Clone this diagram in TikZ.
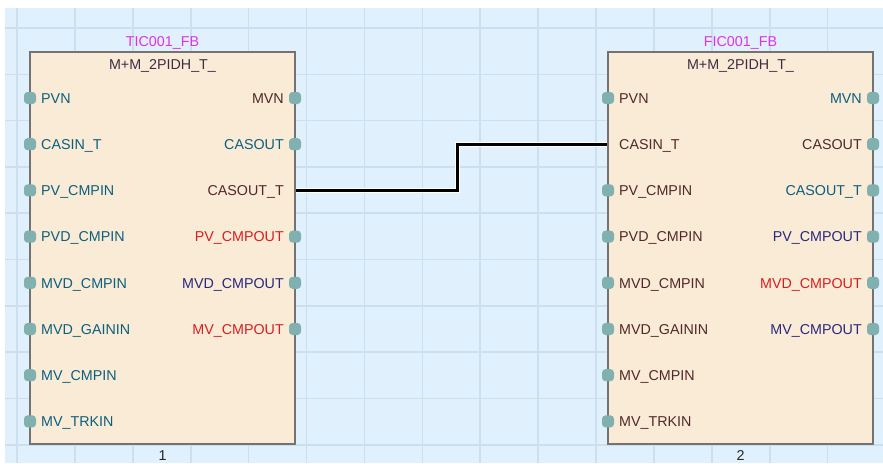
\documentclass[tikz,border=0pt]{standalone}
\usepackage{fontspec}
\setmainfont{Liberation Sans}
\usetikzlibrary{positioning, calc}

\definecolor{sheetblue}{RGB}{224,240,252}
\definecolor{gridblue}{RGB}{204,223,238}
\definecolor{fbfill}{RGB}{250,235,215}
\definecolor{pinteal}{RGB}{128,176,176}
\definecolor{txteal}{RGB}{10,95,125}
\definecolor{txbrown}{RGB}{80,40,40}
\definecolor{txred}{RGB}{215,30,30}
\definecolor{txnavy}{RGB}{40,40,125}
\definecolor{txtype}{RGB}{60,45,70}
\definecolor{txname}{RGB}{225,50,225}

\begin{document}
\begin{tikzpicture}[x=1pt, y=-1pt,
    every node/.style={font=\fontsize{14.3}{16}\selectfont},
    fblock/.style={rectangle, draw=gray!90!black, line width=1.3pt, fill=fbfill, minimum width=265pt, minimum height=392pt, inner sep=0pt},
    fbname/.style={text=txname, inner sep=0pt},
    fbtype/.style={text=txtype, inner sep=0pt},
    fbnum/.style={text=black!85, inner sep=0pt},
    portpin/.style={rectangle, rounded corners=3.5pt, fill=pinteal, minimum width=12pt, minimum height=12pt, inner sep=0pt},
    gridline/.style={draw=gridblue, line width=1.6pt},
    wire/.style={draw=black, line width=3pt, preaction={draw=white, line width=5pt}}]

    \useasboundingbox (0,0) rectangle (883,463);
    % sheet and grid
    \fill[sheetblue] (5,8) rectangle (883,463);
    \foreach \gx in {0,...,14}
        \draw[gridline] ({17+57.9*\gx},8) -- ({17+57.9*\gx},463);
    \foreach \gy in {0,...,9}
        \draw[gridline] (5,{28+46.3*\gy}) -- (883,{28+46.3*\gy});

    % function blocks
    \node [fblock] (tic) at (162.5,248) {};
    \node [fbname, above=2pt of tic] {TIC001\_FB};
    \node [fbtype, below=8pt of tic.north] {M+M\_2PIDH\_T\_};
    \node [fbnum, below=6pt of tic] {1};

    \node [fblock] (fic) at (740.5,248) {};
    \node [fbname, above=2pt of fic] {FIC001\_FB};
    \node [fbtype, below=8pt of fic.north] {M+M\_2PIDH\_T\_};
    \node [fbnum, below=6pt of fic] {2};

    % inputs
    \foreach \lbl/\col [count=\i] in {PVN/txteal, CASIN\_T/txteal, PV\_CMPIN/txteal, PVD\_CMPIN/txteal,
        MVD\_CMPIN/txteal, MVD\_GAININ/txteal, MV\_CMPIN/txteal, MV\_TRKIN/txteal}
        \node [anchor=base west, text=\col, inner sep=0pt] (tic-in\i) at (41,{98+46.2*(\i-1)+5.2}) {\lbl};
    \foreach \lbl/\col [count=\i] in {PVN/txbrown, CASIN\_T/txbrown, PV\_CMPIN/txbrown, PVD\_CMPIN/txbrown,
        MVD\_CMPIN/txbrown, MVD\_GAININ/txbrown, MV\_CMPIN/txbrown, MV\_TRKIN/txbrown}
        \node [anchor=base west, text=\col, inner sep=0pt] (fic-in\i) at (619,{98+46.2*(\i-1)+5.2}) {\lbl};

    % outputs
    \foreach \lbl/\col [count=\i] in {MVN/txbrown, CASOUT/txteal, CASOUT\_T/txbrown,
        PV\_CMPOUT/txred, MVD\_CMPOUT/txnavy, MV\_CMPOUT/txred}
        \node [anchor=base east, text=\col, inner sep=0pt] (tic-out\i) at (284,{98+46.2*(\i-1)+5.2}) {\lbl};
    \foreach \lbl/\col [count=\i] in {MVN/txteal, CASOUT/txbrown, CASOUT\_T/txteal,
        PV\_CMPOUT/txnavy, MVD\_CMPOUT/txred, MV\_CMPOUT/txnavy}
        \node [anchor=base east, text=\col, inner sep=0pt] (fic-out\i) at (862,{98+46.2*(\i-1)+5.2}) {\lbl};

    % pins
    \foreach \i in {1,...,8}
        \node [portpin] (tic-p\i) at (30,{98+46.2*(\i-1)}) {};
    \foreach \i in {1,2,4,5,6}
        \node [portpin] (tic-q\i) at (295,{98+46.2*(\i-1)}) {};
    \foreach \i in {1,3,4,5,6,7,8}
        \node [portpin] (fic-p\i) at (608,{98+46.2*(\i-1)}) {};
    \foreach \i in {1,...,6}
        \node [portpin] (fic-q\i) at (873,{98+46.2*(\i-1)}) {};

    % connection
    \coordinate (tic-wire) at (tic.east |- tic-p3);
    \coordinate (fic-wire) at (fic.west |- tic-p2);
    \draw [wire] (tic-wire) -- ++(162,0) |- (fic-wire);
\end{tikzpicture}
\end{document}
